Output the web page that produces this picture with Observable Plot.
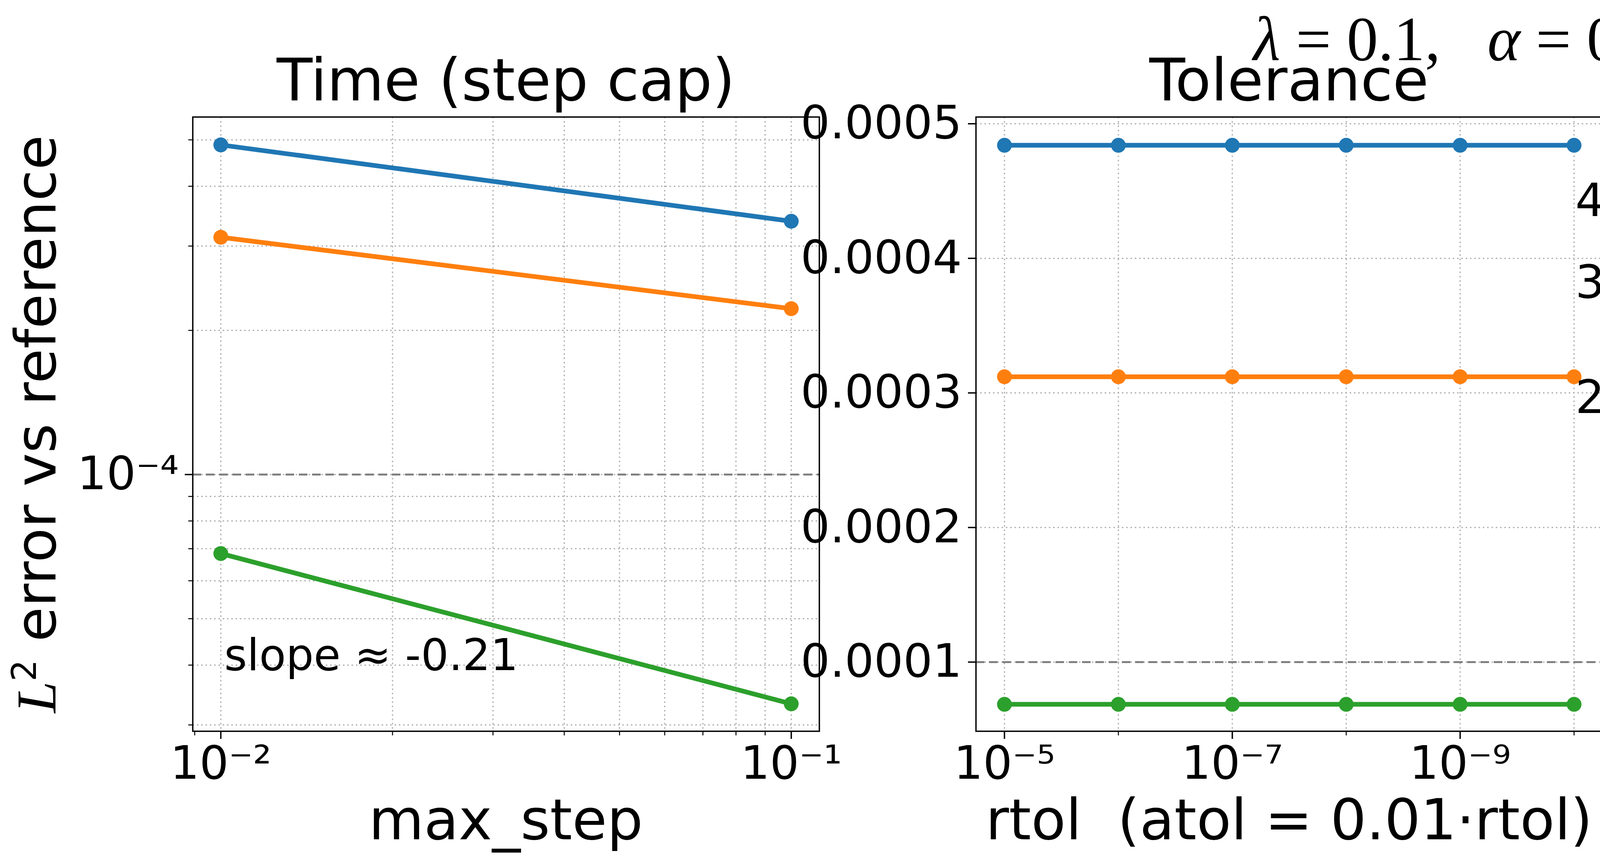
<!DOCTYPE html>
<html><head><meta charset="utf-8">
<script src="https://cdn.jsdelivr.net/npm/d3@7"></script>
<script src="https://cdn.jsdelivr.net/npm/@observablehq/plot@0.6"></script>
<style>
body{margin:0;background:#fff;width:7237px;height:2201px;position:relative;overflow:hidden;font-family:"DejaVu Sans",sans-serif}
.abs{position:absolute;white-space:nowrap;line-height:1}
.serif{font-family:"Liberation Serif",serif}
svg.plot{position:absolute;left:0;top:0}
</style></head><body>
<div id="root"></div>
<script>
const seriesNames = ["m0=0.1","m0=0.5","m0=0.9"];
const colors = ["#1f77b4","#ff7f0e","#2ca02c"];
const legendLabels = ["0.1","0.5","0.9"];

const maxStep = [0.01, 0.1];
const timeErr = [[4.88e-4, 3.38e-4],[3.13e-4, 2.22e-4],[6.84e-5, 3.32e-5]];

const rtol = [1e-5,1e-6,1e-7,1e-8,1e-9,1e-10];
const tolErr = [[4.84e-4,4.84e-4,4.84e-4,4.84e-4,4.84e-4,4.84e-4],
                [3.12e-4,3.12e-4,3.12e-4,3.12e-4,3.12e-4,3.12e-4],
                [6.86e-5,6.86e-5,6.86e-5,6.86e-5,6.86e-5,6.86e-5]];

const invN = [5e-5, 8.333e-5, 1.25e-4, 2.5e-4, 5e-4];
const sampErr = [[4.88e-4,4.88e-4,4.88e-4,4.88e-4,4.90e-4],
                 [3.13e-4,3.13e-4,3.13e-4,3.13e-4,3.15e-4],
                 [6.83e-5,6.83e-5,6.83e-5,6.83e-5,6.83e-5]];

const refLine = 1e-4;
const slopeTexts = ["slope ≈ -0.21","slope ≈ 0.00"];

function rows(xs, ys){ const r=[]; ys.forEach((s,i)=>s.forEach((v,j)=>r.push({x:xs[j],y:v,s:seriesNames[i]}))); return r; }
const sup = {"-":"⁻","0":"⁰","1":"¹","2":"²","3":"³","4":"⁴","5":"⁵","6":"⁶","7":"⁷","8":"⁸","9":"⁹"};
const pow10 = v => { const e=Math.round(Math.log10(v)); return "10"+String(e).split("").map(c=>sup[c]).join(""); };

const H = 2201, TOPM = 299, BOTY = 1871;
const gridStyle = {stroke:"#b0b0b0", strokeOpacity:1, strokeWidth:3, strokeDasharray:"4,7"};

function panel(o){
  const data = rows(o.xs, o.ys);
  const marks = [
    Plot.gridX(o.xgrid, gridStyle),
    Plot.gridY(o.ygrid, gridStyle),
    Plot.ruleY([refLine], {stroke:"#808080", strokeWidth:5, strokeDasharray:"22,12"})
  ];
  if (o.xminor.length) marks.push(Plot.axisX(o.xminor, {tickSize:11, strokeWidth:2.5, tickFormat:()=>"", label:null}));
  if (o.yminor.length) marks.push(Plot.axisY(o.yminor, {tickSize:11, strokeWidth:2.5, tickFormat:()=>"", label:null}));
  marks.push(
    Plot.axisX(o.xmajor, {tickSize:20, strokeWidth:3.5, tickFormat:o.xfmt, fontSize:118, tickPadding:18, label:null}),
    Plot.axisY(o.ymajor, {tickSize:20, strokeWidth:3.5, tickFormat:o.yfmt, fontSize:118, tickPadding:16, label:null}),
    Plot.line(data, {x:"x", y:"y", z:"s", stroke:"s", strokeWidth:12}),
    Plot.dot(data, {x:"x", y:"y", fill:"s", r:19}),
    Plot.frame({stroke:"#000", strokeWidth:3.5})
  );
  if (o.extraY) marks.push(Plot.axisY(o.extraY, {tickSize:0, tickFormat:o.extraFmt, fontSize:118, tickPadding:36, label:null}));
  const p = Plot.plot({
    width: o.right + 40, height: H,
    marginLeft: o.left, marginRight: 40, marginTop: TOPM, marginBottom: H - BOTY,
    x: {type: o.xtype||"log", domain: o.xdom, label:null, reverse: !!o.xrev},
    y: {type: o.ytype||"log", domain: o.ydom, label:null},
    color: {domain: seriesNames, range: colors},
    style: {background:"transparent", overflow:"visible", fontFamily:"DejaVu Sans"},
    marks
  });
  p.style.position="absolute"; p.style.left="0px"; p.style.top="0px";
  document.getElementById("root").appendChild(p);
}

// Panel 1
panel({left:493, right:2097, xs:maxStep, ys:timeErr,
  xdom:[0.00893,0.112], ydom:[2.91e-5,5.58e-4],
  xmajor:[0.01,0.1], xminor:[0.009,0.02,0.03,0.04,0.05,0.06,0.07,0.08,0.09],
  xgrid:[0.01,0.02,0.03,0.04,0.05,0.06,0.07,0.08,0.09,0.1],
  ymajor:[1e-4], yminor:[3e-5,4e-5,5e-5,6e-5,7e-5,8e-5,9e-5,2e-4,3e-4,4e-4,5e-4],
  ygrid:[3e-5,4e-5,5e-5,6e-5,7e-5,8e-5,9e-5,1e-4,2e-4,3e-4,4e-4,5e-4],
  xfmt:pow10, yfmt:pow10});

// Panel 2
panel({left:2498, right:4102, xs:rtol, ys:tolErr, xrev:true,
  xdom:[10**-10.25,10**-4.75], ydom:[4.86e-5,5.05e-4], ytype:"linear",
  xmajor:[1e-5,1e-7,1e-9], xminor:[1e-6,1e-8,1e-10],
  xgrid:rtol,
  ymajor:[1e-4,2e-4,3e-4,4e-4,5e-4], yminor:[],
  ygrid:[1e-4,2e-4,3e-4,4e-4,5e-4],
  xfmt:pow10, yfmt:d=>d3.format(".4f")(d)});

// Panel 3
panel({left:4502, right:6107, xs:invN, ys:sampErr,
  xdom:[4.46e-5,5.57e-4], ydom:[6.2e-5,5.38e-4],
  xmajor:[1e-4], xminor:[5e-5,6e-5,7e-5,8e-5,9e-5,2e-4,3e-4,4e-4,5e-4],
  xgrid:[5e-5,6e-5,7e-5,8e-5,9e-5,1e-4,2e-4,3e-4,4e-4,5e-4],
  ymajor:[1e-4], yminor:[7e-5,8e-5,9e-5,2e-4,3e-4,4e-4,5e-4],
  ygrid:[7e-5,8e-5,9e-5,1e-4,2e-4,3e-4,4e-4,5e-4],
  extraY:[2e-4,3e-4,4e-4], extraFmt:d=>Math.round(d*1e4)+"×10⁻⁴",
  xfmt:pow10, yfmt:pow10});

// Texts
const root = document.getElementById("root");
function txt(html, style, cls){ const d=document.createElement("div"); d.className="abs "+(cls||""); d.innerHTML=html; Object.assign(d.style, style); root.appendChild(d); return d; }
txt("<i>λ</i> = 0.1,&nbsp;&nbsp; <i>α</i> = 0.1", {left:"3735px", top:"20px", fontSize:"160px", transform:"translateX(-50%)"}, "serif");
txt("Time (step cap)", {left:"1295px", top:"130px", fontSize:"150px", transform:"translateX(-50%)"});
txt("Tolerance", {left:"3300px", top:"130px", fontSize:"150px", transform:"translateX(-50%)"});
txt("Sampling", {left:"5305px", top:"130px", fontSize:"150px", transform:"translateX(-50%)"});
txt("max_step", {left:"1295px", top:"2025px", fontSize:"145px", transform:"translateX(-50%)"});
txt("rtol&nbsp; (atol = 0.01·rtol)", {left:"3300px", top:"2025px", fontSize:"145px", transform:"translateX(-50%)"});
txt("1/<i>n</i><sub style='font-size:0.7em;font-style:normal'>eval</sub>", {left:"5305px", top:"2015px", fontSize:"150px", transform:"translateX(-50%)"}, "serif");
txt("<i class='serif'>L</i><sup style='font-size:0.6em'>2</sup> error vs reference", {left:"92px", top:"1085px", fontSize:"145px", transform:"translate(-50%,-50%) rotate(-90deg)"});
txt(slopeTexts[0], {left:"574px", top:"1620px", fontSize:"112px"});
txt(slopeTexts[1], {left:"4581px", top:"1620px", fontSize:"112px"});

// Legend
txt("<i>m</i><sub style='font-size:0.7em;font-style:normal'>0</sub>", {left:"6735px", top:"790px", fontSize:"130px"}, "serif");
legendLabels.forEach((l,i)=>{
  const y = [1039,1210,1385][i];
  const s = document.createElementNS("http://www.w3.org/2000/svg","svg");
  s.setAttribute("width","260"); s.setAttribute("height","60");
  s.style.position="absolute"; s.style.left="6436px"; s.style.top=(y-30)+"px";
  s.innerHTML = `<line x1="5" x2="252" y1="30" y2="30" stroke="${colors[i]}" stroke-width="12"/><circle cx="128" cy="30" r="19" fill="${colors[i]}"/>`;
  root.appendChild(s);
  txt(`<i>m</i><sub style='font-size:0.7em'>0</sub> = ${l}`, {left:"6772px", top:(y-85)+"px", fontSize:"125px"}, "serif");
});
</script></body></html>
